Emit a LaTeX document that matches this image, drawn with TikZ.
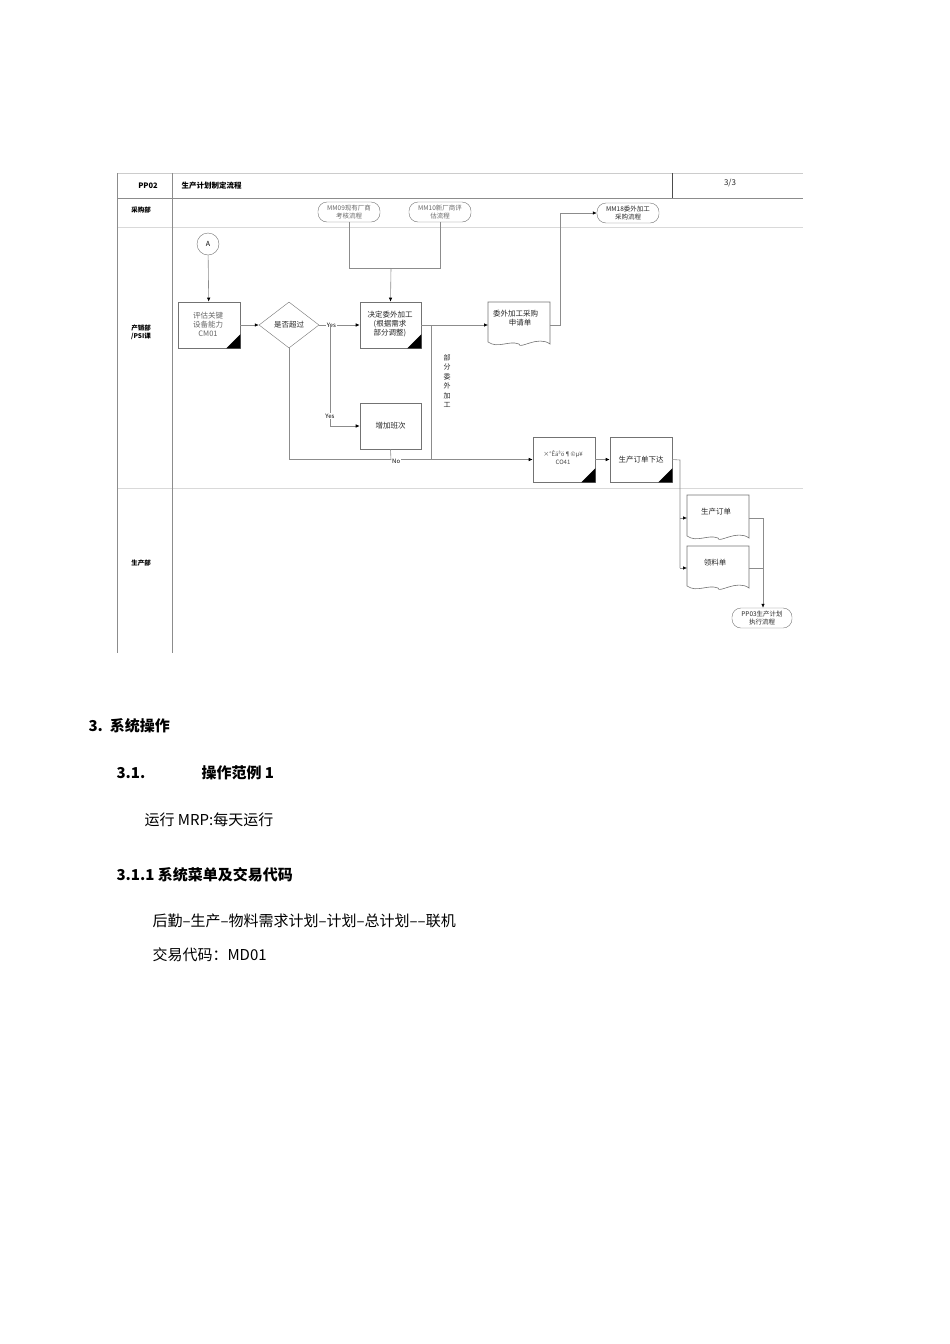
\documentclass[tikz,border=0pt]{standalone}
\usepackage{fontspec}
\setmainfont{Noto Sans CJK SC}
\newfontfamily\serifcjk{Noto Sans CJK SC}
\usetikzlibrary{shapes.geometric,arrows.meta}
\begin{document}
\begin{tikzpicture}[x=1pt,y=-1pt,
  ln/.style={draw=black!45,line width=0.6pt},
  ar/.style={ln,-{Latex[length=4pt,width=3.5pt,black]}},
  sm/.style={font=\fontsize{7.5}{9}\selectfont,align=center,text=black!85},
  pbox/.style={draw=black!55,line width=0.6pt,fill=white},
  lab/.style={font=\fontsize{7.5}{9}\selectfont\bfseries},
  body/.style={font=\fontsize{15}{18}\selectfont,anchor=west},
  hd/.style={font=\fontsize{15}{18}\selectfont\bfseries,anchor=west}]
\useasboundingbox (0,0) rectangle (950,1344);
% frame
\draw[black!20,line width=1pt] (117,173) -- (803,173);
\draw[ln] (117,198) -- (803,198);
\draw[black!15] (117,227) -- (803,227);
\draw[black!15] (117,488) -- (803,488);
\draw[ln] (117,173) -- (117,653);
\draw[ln] (172,173) -- (172,653);
\draw[black!70] (672,173) -- (672,198);
\node[lab] (h1) at (148,186) {PP02};
\node[lab,anchor=west] (h2) at (178,186) {生产计划制定流程};
\node[sm,font=\fontsize{8}{9}\selectfont] (h3) at (730,183) {3/3};
\node[lab,font=\fontsize{6.5}{8}\selectfont\bfseries] (l1) at (141,210) {采购部};
\node[lab,align=center,font=\fontsize{6.5}{8}\selectfont\bfseries] (l2) at (141,332) {产销部\\/PSI课};
\node[lab,font=\fontsize{6.5}{8}\selectfont\bfseries] (l3) at (141,563) {生产部};
% nodes
\node[circle,draw=black!55,minimum size=22pt,inner sep=0pt,font=\fontsize{7}{8}\selectfont] (A) at (208,244) {A};
\node[pbox,minimum width=62pt,minimum height=46pt] (eval) at (209,325) {};
\node[sm,text=black!60] at (208,324) {评估关键\\设备能力\\CM01};
\node[diamond,draw=black!55,fill=white,minimum width=60pt,minimum height=46pt,inner sep=0pt,sm,aspect=1.3] (dec) at (289,325) {是否超过};
\node[pbox,minimum width=61pt,minimum height=46pt] (decide) at (390.5,325) {};
\node[sm] at (390,324) {决定委外加工\\(根据需求\\部分调整)};
\node[pbox,minimum width=61pt,minimum height=46pt,sm] (shift) at (390.5,426) {增加班次};
\node[draw=black!55,rounded corners=9pt,minimum width=62pt,minimum height=20pt,inner sep=0pt,sm,text=black!60,font=\fontsize{6.5}{7.5}\selectfont] (mm09) at (349,212) {MM09现有厂商\\考核流程};
\node[draw=black!55,rounded corners=9pt,minimum width=62pt,minimum height=20pt,inner sep=0pt,sm,text=black!60,font=\fontsize{6.5}{7.5}\selectfont] (mm10) at (440,212) {MM10新厂商评\\估流程};
\node[draw=black!55,rounded corners=9pt,minimum width=62pt,minimum height=20pt,inner sep=0pt,sm,font=\fontsize{6.5}{7.5}\selectfont] (mm18) at (628,213) {MM18委外加工\\采购流程};
\node[draw=black!55,rounded corners=9pt,minimum width=60pt,minimum height=20pt,inner sep=0pt,sm,font=\fontsize{6.5}{7.5}\selectfont] (pp03) at (762,618) {PP03生产计划\\执行流程};
\node[pbox,minimum width=62pt,minimum height=45pt] (co41) at (564,459.5) {};
\node[sm,text=black!70,font=\fontsize{6}{8}\selectfont] at (563,458) {×°Êä³ö¶©µ¥\\CO41};
\node[pbox,minimum width=62pt,minimum height=45pt,sm] (rel) at (641,459.5) {生产订单下达};
% documents
\newcommand{\docshape}[4]{% x1 y1 x2 y2
  \draw[black!55,line width=0.6pt,fill=white] (#1,#2) -- (#3,#2) -- (#3,#4) .. controls ({#3-12},{#4-9}) and ({#1+#3/2-#1/2},{#4+6}) .. ({(#1+#3)/2},{#4}) .. controls ({(#1+#3)/2-10},{#4-4}) and ({#1+10},{#4+5}) .. (#1,{#4-2}) -- cycle;}
\docshape{488}{302}{550}{344}
\docshape{687}{495}{749}{538}
\docshape{687}{546}{749}{588}
\node[sm,anchor=north west,inner sep=0pt] (pr) at (493,310) {委外加工采购\\\hspace*{1.2em}申请单};
\coordinate (prL) at (488,325); \coordinate (prR) at (550,325);
\node[sm] (po) at (716,512) {生产订单};
\coordinate (poL) at (687,518); \coordinate (poR) at (749,518);
\node[sm] (pk) at (715,563) {领料单};
\coordinate (pkL) at (687,568); \coordinate (pkR) at (749,568);
% corner triangles
\foreach \n in {eval,decide,co41,rel}{\fill (\n.south east) -- ++(0,-14) -- ++(-14,14) -- cycle;}
% connectors
\draw[ar] (A) -- (eval);
\draw[ln] (mm09.south) |- (391,268) coordinate (j1);
\draw[ln] (mm10.south) |- (j1);
\draw[ar] (j1) -- (decide.north);
\draw[ar] (eval) -- (dec);
\draw[ar] (dec) -- node[pos=0.3,font=\fontsize{6}{7}\selectfont,fill=white,inner sep=1pt] (yes1) {Yes} (decide);
\coordinate (b1) at (330,325);
\draw[ar] (b1) |- node[pos=0.45,font=\fontsize{6}{7}\selectfont,fill=white,inner sep=1pt] (yes2) {Yes} (shift.west);
\draw[ar] (dec.south) |- node[pos=0.72,font=\fontsize{6}{7}\selectfont,fill=white,inner sep=1pt,yshift=-2pt] (no) {No} (co41.west);
\draw[ln] (shift.south) -- (391,460);
\draw[ar] (decide) -- (prL);
\draw[ln] (431,325) -- (431,460);
\node[sm,align=center,font=\fontsize{7}{9.5}\selectfont] (part) at (447,381) {部\\分\\委\\外\\加\\工};
\draw[ar] (prR) -- (560,325) |- (mm18.west);
\draw[ar] (co41) -- (rel);
\draw[ln] (rel.east) -- (680,460) -- (680,568);
\draw[ar] (680,518) -- (poL);
\draw[ar] (680,568) -- (pkL);
\draw[ln] (poR) -- (763,518);
\draw[ln] (pkR) -- (763,568);
\draw[ar] (763,518) -- (pp03.north -| 763,0);
% text
\node[hd] (t1) at (85,726) {3.\ \ 系统操作};
\node[hd] (t2) at (113,773) {3.1.};
\node[hd] (t3) at (198,773) {操作范例 1};
\node[body] (t4) at (141,820) {运行 MRP:每天运行};
\node[hd] (t5) at (113,875) {3.1.1 系统菜单及交易代码};
\node[body] (t6) at (149,921) {后勤–生产–物料需求计划–计划–总计划––联机};
\node[body] (t7) at (149,955) {交易代码：MD01};
\end{tikzpicture}
\end{document}
